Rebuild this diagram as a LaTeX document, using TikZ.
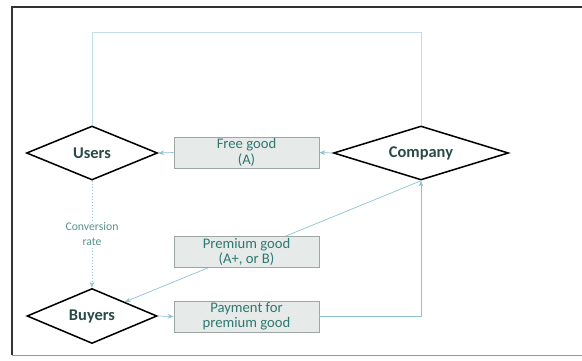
\documentclass[tikz,border=0pt]{standalone}
\usepackage{fontspec}
\setmainfont{Carlito}
\usetikzlibrary{shapes.geometric,arrows.meta}
\definecolor{linkblue}{HTML}{8EC2D3}
\definecolor{boxfill}{HTML}{E6EAE8}
\definecolor{boxedge}{HTML}{9DA6A2}
\definecolor{tealtext}{HTML}{2F7770}
\definecolor{darktext}{HTML}{2A4A47}
\tikzset{
  actor/.style={diamond, draw=black, line width=1.3pt, fill=white, aspect=2.4,
    inner sep=0pt, font=\bfseries\fontsize{14}{16}\selectfont, text=darktext},
  goodbox/.style={rectangle, draw=boxedge, fill=boxfill, line width=0.7pt,
    minimum width=145*0.03cm, minimum height=31*0.03cm, inner sep=0.5pt,
    align=center, font=\fontsize{12.5}{13}\selectfont, text=tealtext},
  flow/.style={draw=linkblue, line width=0.6pt, -{Stealth[length=5pt,width=4pt]}},
  plainflow/.style={draw=linkblue!55, line width=0.5pt},
  frame/.style={draw=black!80, line width=0.9pt}
}
\begin{document}
\begin{tikzpicture}[x=0.03cm,y=-0.03cm]
  \useasboundingbox (0,0) rectangle (582,361);
  % outer frame (open on the right)
  \draw[frame] (582,7) -- (12,7) -- (12,355);
  \draw[draw=black!40, line width=0.6pt] (12,355) -- (582,355);

  % diamonds
  \node[actor, minimum width=131*0.03cm, minimum height=54*0.03cm] (users) at (92,153) {Users};
  \node[actor, minimum width=175*0.03cm, minimum height=54*0.03cm] (company) at (421,153) {Company};
  \node[actor, minimum width=130*0.03cm, minimum height=55*0.03cm] (buyers) at (92,316) {Buyers};

  % loop over the top
  \coordinate (loopL) at (92,32);
  \coordinate (loopR) at (421,32);
  \draw[plainflow] (users.north) -- (loopL) -- (loopR) -- (company.north);

  % premium good delivered to buyers (runs behind its box)
  \draw[flow] (company.south) -- (buyers.north east);

  \node[goodbox] (free) at (246.5,152.5) {Free good\\(A)};
  \node[goodbox] (premium) at (246.5,252) {Premium good\\(A+, or B)};
  \node[goodbox] (payment) at (246.5,316.5) {Payment for\\premium good};

  \draw[flow] (company.west) -- (free.east);
  \draw[flow] (free.west) -- (users.east);

  \draw[flow] (buyers.east) -- (payment.west);
  \coordinate (payR) at (421,316.5);
  \draw[flow] (payment.east) -- (payR) -- (company.south);

  % conversion between users and buyers
  \draw[flow, dotted, line width=0.8pt] (users.south) -- (buyers.north)
    node[midway, fill=white, inner sep=1pt, align=center, text=tealtext!80,
         font=\fontsize{10}{13}\selectfont] (conv) {Conversion\\rate};
\end{tikzpicture}
\end{document}
